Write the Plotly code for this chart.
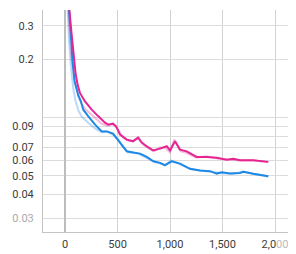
import plotly.graph_objects as go

# Smoothed series
pink_steps = [0, 20, 40, 60, 88, 100, 120, 143, 190, 254, 317, 381, 412, 457, 486, 524, 588, 648, 695, 730,
              778, 838, 905, 969, 1000, 1048, 1095, 1159, 1254, 1350, 1445, 1540, 1603, 1667, 1793, 1936]
pink_vals = [0.8, 0.52, 0.37, 0.28, 0.205, 0.17, 0.148, 0.134, 0.1214, 0.110, 0.1016, 0.0942, 0.092, 0.0931,
             0.0902, 0.0817, 0.0769, 0.0754, 0.0788, 0.0743, 0.0711, 0.0677, 0.0691, 0.0711, 0.0677, 0.0754,
             0.0683, 0.0669, 0.0626, 0.0626, 0.0619, 0.0606, 0.0612, 0.0601, 0.0601, 0.059]

blue_steps = [0, 20, 38, 55, 70, 90, 127, 150, 174, 222, 286, 350, 397, 457, 524, 588, 648, 714, 778, 841,
              905, 952, 1016, 1095, 1190, 1286, 1381, 1445, 1492, 1571, 1667, 1698, 1793, 1936]
blue_vals = [0.75, 0.48, 0.36, 0.27, 0.2, 0.155, 0.13, 0.122, 0.110, 0.1016, 0.092, 0.0849, 0.0849, 0.0827,
             0.0743, 0.0669, 0.0659, 0.0651, 0.0626, 0.0594, 0.0583, 0.0567, 0.0594, 0.0578, 0.0543, 0.0532,
             0.0528, 0.0513, 0.0521, 0.0513, 0.0517, 0.0524, 0.0512, 0.0497]

# Raw (unsmoothed) series
pink_raw_steps = [0, 20, 40, 60, 80, 100, 130, 160, 200, 250, 300, 350, 400, 450, 500, 550, 600, 650, 700,
                  750, 800, 850, 900, 950, 1000, 1040, 1100, 1150, 1250, 1350, 1450, 1550, 1650, 1800, 1936]
pink_raw_vals = [0.8, 0.48, 0.30, 0.21, 0.17, 0.148, 0.128, 0.117, 0.110, 0.104, 0.098, 0.093, 0.091, 0.093,
                 0.088, 0.079, 0.076, 0.076, 0.079, 0.072, 0.069, 0.067, 0.070, 0.070, 0.066, 0.077, 0.067,
                 0.066, 0.062, 0.063, 0.0615, 0.0605, 0.060, 0.0600, 0.0588]

blue_raw_steps = [0, 20, 38, 60, 80, 100, 130, 160, 200, 250, 300, 350, 400, 450, 500, 550, 600, 650, 700,
                  750, 800, 850, 900, 950, 1010, 1100, 1200, 1300, 1400, 1500, 1600, 1700, 1800, 1936]
blue_raw_vals = [0.75, 0.42, 0.25, 0.175, 0.14, 0.122, 0.108, 0.101, 0.096, 0.091, 0.087, 0.084, 0.085, 0.082,
                 0.078, 0.071, 0.066, 0.066, 0.065, 0.063, 0.061, 0.059, 0.058, 0.0565, 0.060, 0.057, 0.054,
                 0.053, 0.0525, 0.0515, 0.0512, 0.0525, 0.0510, 0.0495]

y_tickvals = [0.03, 0.04, 0.05, 0.06, 0.07, 0.08, 0.09, 0.1, 0.2, 0.3]
y_ticktext = ["<span style='color:#aaaaaa'>0.03</span>", "0.04", "0.05", "0.06", "0.07", "", "0.09", "", "0.2", "0.3"]
x_tickvals = [0, 500, 1000, 1500, 2000]
x_ticktext = ["0", "500", "1,000", "1,500", "2,0<span style='color:#bbbbbb'>00</span>"]

PINK = "#e52592"
BLUE = "#1e88e5"

fig = go.Figure()
fig.add_trace(go.Scatter(x=pink_raw_steps, y=pink_raw_vals, mode="lines",
                         line=dict(color=PINK, width=2), opacity=0.3, hoverinfo="skip"))
fig.add_trace(go.Scatter(x=blue_raw_steps, y=blue_raw_vals, mode="lines",
                         line=dict(color=BLUE, width=2), opacity=0.3, hoverinfo="skip"))
fig.add_trace(go.Scatter(x=blue_steps, y=blue_vals, mode="lines",
                         line=dict(color=BLUE, width=2)))
fig.add_trace(go.Scatter(x=pink_steps, y=pink_vals, mode="lines",
                         line=dict(color=PINK, width=2)))

# The page body has an 8px margin, so the figure is sized/offset to compensate.
fig.update_layout(
    width=288, height=246,
    margin=dict(l=35, r=0, t=2, b=22, autoexpand=False),
    paper_bgcolor="white", plot_bgcolor="white",
    showlegend=False,
    font=dict(family="Roboto", size=11, color="#3c3c3c"),
)
fig.update_xaxes(
    range=[-210, 2200], tickvals=x_tickvals, ticktext=x_ticktext,
    showgrid=True, gridcolor="#d2d2d2", gridwidth=1,
    zeroline=True, zerolinecolor="#bdbdbd", zerolinewidth=2,
    showline=True, linecolor="#c4c4c4", linewidth=1,
    ticks="", ticklabelstandoff=2, automargin=False,
)
fig.update_yaxes(
    type="log", range=[-1.5928, -0.4417],
    tickvals=y_tickvals, ticktext=y_ticktext,
    showgrid=True, gridcolor="#dcdcdc", gridwidth=1,
    zeroline=False,
    showline=True, linecolor="#c4c4c4", linewidth=1,
    ticks="", ticklabelstandoff=6, automargin=False,
)

fig.write_html("out.html")
